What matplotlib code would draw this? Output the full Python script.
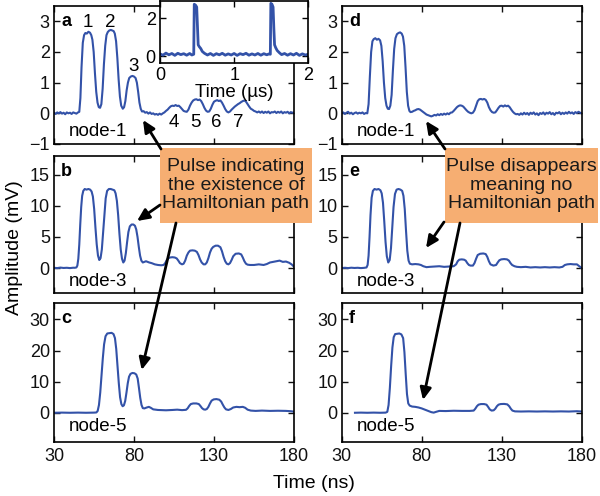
import matplotlib
matplotlib.use('Agg')
import matplotlib.pyplot as plt
from matplotlib.patches import Rectangle, FancyArrowPatch

plt.rcParams['font.family'] = ['Liberation Sans', 'DejaVu Sans']

# ---------------- data (time in ns, amplitude in mV) ----------------
t_a = [30, 31, 32, 33, 34, 35, 36, 37, 38, 39,
       40, 41, 42, 43, 44, 45, 45.8, 46.5, 47.2, 48,
       48.8, 49.6, 50.5, 51.5, 52.5, 53.3, 54, 54.8, 55.6, 56.4,
       57.2, 58, 58.8, 59.6, 60.4, 61.2, 62, 62.8, 63.6, 64.5,
       65.5, 66.5, 67.3, 68, 68.8, 69.6, 70.4, 71.2, 72, 73,
       73.8, 74.6, 75.4, 76.2, 77, 78, 79, 80, 81, 81.8,
       82.6, 83.4, 84.2, 85, 86, 87, 88, 89, 90, 91,
       92, 93, 94, 95, 96, 97, 98, 99, 100, 101,
       102, 103, 104, 105, 106, 107, 108, 109, 110, 111,
       112, 113, 114, 115, 116, 117, 118, 119, 120, 121,
       122, 123, 124, 125, 126, 127, 128, 129, 130, 131,
       132, 133, 134, 135, 136, 137, 138, 139, 140, 141,
       142, 143, 144, 145, 146, 147, 148, 149, 150, 151,
       152, 153, 154, 155, 156, 157, 158, 159, 160, 161,
       162, 163, 164, 165, 166, 167, 168, 169, 170, 171,
       172, 173, 174, 175, 176, 177, 178, 179, 180]
v_a = [0.02, -0.02, 0.03, 0.00, 0.04, -0.01, 0.02, -0.03, 0.03, 0.00,
       0.02, -0.02, 0.03, 0.01, -0.01, 0.03, 0.05, 0.5, 1.5, 2.3,
       2.55, 2.62, 2.6, 2.66, 2.63, 2.55, 2.4, 2.0, 1.3, 0.7,
       0.35, 0.2, 0.18, 0.3, 0.8, 1.6, 2.2, 2.55, 2.65, 2.7,
       2.72, 2.7, 2.68, 2.6, 2.35, 1.8, 1.1, 0.55, 0.25, 0.15,
       0.2, 0.4, 0.75, 1.0, 1.15, 1.2, 1.22, 1.2, 1.15, 1.0,
       0.7, 0.35, 0.15, 0.06, 0.07, 0.02, 0.04, -0.01, 0.03, -0.02,
       0.0, -0.04, -0.02, -0.05, -0.01, -0.04, 0.0, 0.03, 0.08, 0.12,
       0.18, 0.23, 0.25, 0.24, 0.27, 0.24, 0.25, 0.2, 0.14, 0.08,
       0.06, 0.05, 0.12, 0.25, 0.35, 0.42, 0.45, 0.46, 0.43, 0.45,
       0.4, 0.3, 0.18, 0.09, 0.05, 0.06, 0.15, 0.28, 0.38, 0.41,
       0.43, 0.4, 0.42, 0.35, 0.25, 0.14, 0.06, 0.03, 0.06, 0.12,
       0.17, 0.22, 0.26, 0.3, 0.33, 0.37, 0.4, 0.42, 0.38, 0.3,
       0.22, 0.15, 0.12, 0.08, 0.06, 0.03, 0.06, 0.02, 0.06, 0.01,
       0.05, 0.02, 0.06, 0.0, 0.04, 0.03, 0.06, 0.01, 0.05, 0.02,
       0.06, 0.0, 0.04, 0.02, 0.05, 0.0, 0.04, 0.02, 0.03]

t_b = [30, 32, 34, 36, 38, 40, 42, 43, 44, 44.6,
       45.2, 45.8, 46.4, 47, 47.6, 48.3, 49.2, 50.3, 51.5, 52.6,
       53.5, 54.3, 55.1, 55.9, 56.7, 57.5, 58.3, 59.1, 59.9, 60.7,
       61.5, 62.3, 63.2, 64.3, 65.5, 66.7, 67.7, 68.5, 69.3, 70.1,
       70.9, 71.7, 72.5, 73.3, 74.1, 74.9, 75.7, 76.5, 77.4, 78.5,
       79.6, 80.6, 81.4, 82.2, 83, 83.8, 84.6, 85.5, 86.5, 87.5,
       88.5, 89.5, 91, 93, 95, 97, 98.5, 99.5, 100.5, 101.5,
       102.5, 104, 105.5, 106.7, 107.7, 108.7, 110, 111, 112, 113,
       114, 115, 116.5, 118, 119.3, 120.3, 121.3, 122.3, 123.5, 124.5,
       125.5, 126.5, 127.5, 128.5, 129.5, 131, 132.5, 134, 135, 136,
       137, 138, 139, 140, 141, 142, 143.5, 145.5, 147, 148,
       149, 150, 151, 152.5, 155, 158, 161, 163, 165, 167,
       169, 171, 173, 175, 177, 178.5, 179.3, 180]
v_b = [0.05, 0.0, 0.08, 0.02, 0.05, 0.0, 0.06, 0.05, 0.1, 0.4,
       1.5, 3.8, 7.0, 9.8, 11.6, 12.4, 12.7, 12.6, 12.7, 12.6,
       12.3, 11.5, 9.5, 6.5, 3.8, 2.0, 1.3, 1.6, 3.0, 5.8,
       8.8, 11.2, 12.4, 12.7, 12.7, 12.6, 12.5, 12.0, 10.8, 8.5,
       5.5, 3.0, 1.5, 0.9, 1.2, 2.4, 4.2, 5.8, 6.7, 7.0,
       7.0, 6.8, 6.2, 5.0, 3.4, 2.0, 1.2, 0.9, 1.0, 1.1,
       1.0, 0.9, 0.8, 0.6, 0.5, 0.45, 0.5, 0.8, 1.3, 1.6,
       1.7, 1.75, 1.7, 1.55, 1.2, 0.8, 0.6, 0.7, 1.2, 2.0,
       2.5, 2.8, 2.85, 2.8, 2.6, 2.1, 1.4, 0.9, 0.6, 0.6,
       0.9, 1.6, 2.5, 3.1, 3.4, 3.6, 3.6, 3.35, 2.7, 1.8,
       1.1, 0.7, 0.6, 0.8, 1.3, 1.9, 2.3, 2.35, 2.2, 1.7,
       1.1, 0.7, 0.55, 0.5, 0.5, 0.6, 0.5, 0.65, 0.9, 1.0,
       1.1, 1.2, 1.0, 1.05, 0.85, 0.6, 0.4, 0.2]

t_c = [30, 35, 40, 45, 50, 55, 56.5, 57.3, 58.1, 58.9,
       59.7, 60.5, 61.3, 62.2, 63.3, 64.6, 66, 67.2, 68.1, 68.9,
       69.7, 70.5, 71.3, 72.1, 72.9, 73.7, 74.5, 75.3, 76.1, 76.9,
       77.8, 79, 80.3, 81.4, 82.3, 83.1, 83.9, 84.7, 85.5, 86.5,
       88, 89.3, 90.5, 92, 95, 100, 104, 107, 110, 112.5,
       113.5, 114.5, 115.5, 117, 119, 120.5, 121.5, 122.5, 123.5, 124.5,
       125.5, 126.5, 127.5, 128.5, 129.8, 131.5, 133.3, 134.5, 135.5, 136.5,
       137.5, 139, 140.5, 142, 144, 146, 148, 149.5, 151, 153,
       156, 160, 165, 170, 175, 178, 180]
v_c = [0.0, 0.05, 0.0, 0.05, 0.0, 0.05, 0.1, 0.6, 2.5, 6.5,
       12.0, 17.5, 22.0, 24.6, 25.5, 25.6, 25.7, 25.3, 24.0, 20.5,
       15.0, 9.5, 5.0, 2.8, 2.1, 2.4, 3.8, 6.5, 9.5, 11.6,
       12.5, 12.8, 12.7, 12.3, 11.0, 8.0, 4.8, 2.5, 1.5, 1.4,
       1.7, 1.9, 1.6, 1.1, 0.9, 0.8, 0.9, 1.0, 0.85, 0.95,
       1.4, 2.2, 2.8, 3.0, 3.0, 2.8, 2.2, 1.5, 1.1, 1.0,
       1.2, 1.9, 3.0, 3.9, 4.3, 4.4, 4.2, 3.6, 2.6, 1.7,
       1.1, 0.9, 1.2, 1.7, 1.9, 1.8, 1.9, 1.6, 1.0, 0.7,
       0.6, 0.7, 0.6, 0.65, 0.6, 0.5, 0.35]

t_d = [30, 31, 32, 33, 34, 35, 36, 37, 38, 39,
       40, 41, 42, 43, 44, 45, 46, 46.8, 47.6, 48.4,
       49.2, 50, 51, 52, 53, 54, 54.8, 55.6, 56.4, 57.2,
       58, 58.8, 59.6, 60.4, 61.2, 62, 62.8, 63.6, 64.5, 65.5,
       66.5, 67.5, 68.3, 69.1, 69.9, 70.7, 71.5, 72.3, 73, 74,
       75, 76, 77, 78, 79, 80, 81, 82, 83, 84,
       85, 86, 87, 88, 89, 90, 91, 92, 93, 94,
       95, 96, 97, 98, 99, 100, 101, 102, 103, 104,
       105, 106, 107, 108, 109, 110, 111, 112, 113, 114,
       115, 116, 117, 118, 119, 120, 121, 122, 123, 124,
       125, 126, 127, 128, 129, 130, 131, 132, 133, 134,
       135, 136, 137, 138, 139, 140, 141, 142, 143, 144,
       145, 146, 147, 148, 149, 150, 151, 152, 153, 154,
       155, 156, 157, 158, 159, 160, 161, 162, 163, 164,
       165, 166, 167, 168, 169, 170, 171, 172, 173, 174,
       175, 176, 177, 178, 179, 180]
v_d = [0.0, 0.03, -0.02, 0.02, 0.05, -0.01, 0.02, -0.03, 0.01, 0.03,
       -0.01, 0.02, 0.0, 0.03, -0.02, 0.01, 0.0, 0.3, 1.2, 2.0,
       2.35, 2.42, 2.45, 2.4, 2.43, 2.38, 2.2, 1.7, 1.0, 0.5,
       0.25, 0.15, 0.14, 0.25, 0.6, 1.4, 2.1, 2.45, 2.58, 2.62,
       2.64, 2.6, 2.5, 2.2, 1.5, 0.7, 0.25, 0.08, 0.04, 0.05,
       0.08, 0.1, 0.13, 0.14, 0.12, 0.08, 0.04, 0.0, -0.04, -0.06,
       -0.08, -0.1, -0.08, -0.05, -0.07, -0.03, -0.06, -0.02, -0.05, -0.01,
       -0.04, 0.0, -0.03, 0.02, 0.03, 0.08, 0.14, 0.2, 0.24, 0.26,
       0.25, 0.22, 0.16, 0.1, 0.05, 0.02, 0.0, 0.02, 0.1, 0.25,
       0.4, 0.46, 0.47, 0.45, 0.47, 0.44, 0.35, 0.2, 0.1, 0.04,
       0.02, 0.03, 0.1, 0.18, 0.24, 0.25, 0.22, 0.26, 0.23, 0.25,
       0.2, 0.12, 0.05, 0.0, -0.03, -0.02, -0.05, 0.0, -0.04, 0.02,
       -0.03, 0.01, -0.05, 0.02, -0.02, 0.03, -0.04, 0.0, -0.06, 0.01,
       -0.02, 0.03, -0.04, 0.02, -0.01, 0.04, -0.03, 0.01, -0.05, 0.02,
       0.0, 0.04, -0.03, 0.02, -0.02, 0.03, -0.01, 0.05, 0.0, 0.03,
       -0.02, 0.04, 0.01, 0.05, 0.02, 0.0]

t_e = [30, 32, 34, 36, 38, 40, 42, 44, 45.5, 46.2,
       46.8, 47.4, 48, 48.7, 49.5, 50.5, 51.8, 53, 54.2, 55,
       55.8, 56.6, 57.4, 58.2, 59.1, 60, 60.8, 61.6, 62.4, 63.3,
       64.3, 65.5, 66.7, 67.8, 68.6, 69.4, 70.2, 71, 71.8, 72.6,
       74, 76, 78, 79.5, 81, 83, 85, 88, 91, 94,
       97, 100, 101.5, 102.5, 103.5, 105, 106.5, 107.5, 108.5, 109.5,
       110.5, 112, 113, 114, 115, 116.5, 118.5, 120, 121, 122,
       123, 124.8, 126.5, 127.5, 128.5, 129.7, 131.5, 133.3, 134.5, 135.5,
       136.5, 138, 139.5, 142, 145, 148, 151, 154, 157, 160,
       163, 166, 168, 169.5, 171, 173, 175, 177, 178.5, 180]
v_e = [0.0, 0.05, 0.0, 0.06, 0.02, 0.05, 0.0, 0.04, 0.1, 0.5,
       2.0, 5.0, 8.5, 11.3, 12.4, 12.7, 12.6, 12.7, 12.5, 12.0,
       10.5, 7.5, 4.2, 1.9, 0.9, 1.3, 3.2, 6.5, 9.8, 11.9,
       12.6, 12.7, 12.6, 12.4, 11.6, 9.5, 6.0, 2.8, 1.2, 0.7,
       0.6, 0.65, 0.6, 0.5, 0.3, 0.15, 0.2, 0.25, 0.3, 0.2,
       0.25, 0.3, 0.6, 1.1, 1.35, 1.4, 1.35, 1.2, 0.8, 0.5,
       0.4, 0.4, 0.8, 1.5, 2.1, 2.3, 2.35, 2.25, 1.8, 1.1,
       0.6, 0.4, 0.5, 0.9, 1.25, 1.4, 1.45, 1.4, 1.2, 0.8,
       0.5, 0.3, 0.2, 0.15, 0.2, 0.1, 0.15, 0.1, 0.15, 0.1,
       0.15, 0.1, 0.2, 0.5, 0.6, 0.65, 0.6, 0.6, 0.3, 0.0]

t_f = [38.3, 42, 46, 50, 54, 57.5, 58.5, 59.3, 60.1, 60.9,
       61.7, 62.5, 63.4, 64.7, 66, 67.3, 68.4, 69.2, 70, 70.8,
       71.6, 72.5, 74, 76, 78, 80, 82, 84, 86, 87.5,
       89, 91, 95, 100, 105, 110, 112.5, 113.5, 114.5, 115.5,
       117, 119, 120.5, 121.5, 122.5, 123.7, 125, 126, 127, 128,
       129.3, 131.5, 133.5, 134.7, 135.7, 136.7, 138.3, 142, 147, 152,
       157, 162, 167, 172, 177, 180]
v_f = [0.0, 0.05, 0.0, 0.05, 0.0, 0.05, 0.3, 2.5, 8.0, 15.0,
       21.0, 24.3, 25.3, 25.4, 25.5, 25.2, 24.0, 19.5, 12.5, 6.0,
       3.0, 2.3, 2.0, 1.9, 1.7, 1.4, 1.0, 0.6, 0.2, 0.05,
       0.3, 0.6, 0.55, 0.65, 0.6, 0.6, 0.7, 1.3, 2.1, 2.6,
       2.8, 2.8, 2.6, 1.9, 1.1, 0.7, 0.8, 1.3, 2.1, 2.6,
       2.8, 2.85, 2.7, 2.1, 1.3, 0.7, 0.45, 0.4, 0.45, 0.4,
       0.45, 0.4, 0.45, 0.4, 0.5, 0.4]

# inset (time in microseconds)
t_in = [0.00, 0.04, 0.08, 0.12, 0.16, 0.20, 0.24, 0.28, 0.32, 0.36,
        0.40, 0.43, 0.455, 0.462, 0.48, 0.495, 0.505, 0.515, 0.53, 0.55,
        0.57, 0.60, 0.64, 0.68, 0.72, 0.76, 0.80, 0.84, 0.88, 0.92,
        0.96, 1.00, 1.04, 1.08, 1.12, 1.16, 1.20, 1.24, 1.28, 1.32,
        1.36, 1.40, 1.44, 1.47, 1.488, 1.495, 1.51, 1.525, 1.535, 1.545,
        1.56, 1.58, 1.61, 1.64, 1.68, 1.72, 1.76, 1.80, 1.84, 1.88,
        1.92, 1.96, 2.00]
v_in = [0.12, 0.05, 0.16, 0.07, 0.14, 0.04, 0.15, 0.08, 0.13, 0.05,
        0.14, 0.06, 0.1, 2.75, 2.7, 2.6, 1.6, 0.6, 0.5, 0.4,
        0.25, 0.15, 0.06, 0.14, 0.04, 0.13, 0.07, 0.15, 0.05, 0.12,
        0.06, 0.14, 0.04, 0.13, 0.08, 0.15, 0.05, 0.12, 0.06, 0.14,
        0.05, 0.13, 0.07, 0.12, 0.1, 2.8, 2.75, 2.6, 1.5, 0.6,
        0.45, 0.3, 0.18, 0.08, 0.14, 0.05, 0.13, 0.06, 0.15, 0.04,
        0.12, 0.06, 0.1]

panel_letters = ['a', 'b', 'c', 'd', 'e', 'f']
node_labels = ['node-1', 'node-3', 'node-5', 'node-1', 'node-3', 'node-5']
x_ticks = [30, 80, 130, 180]
y_ticks_rows = [[-1, 0, 1, 2, 3], [0, 5, 10, 15], [0, 10, 20, 30]]
peak_labels = ['1', '2', '3', '4', '5', '6', '7']
peak_label_t = [51.4, 65.0, 79.6, 104.6, 118.5, 131.7, 145.4]
peak_label_v = [2.95, 2.95, 1.54, -0.30, -0.30, -0.30, -0.30]
box_left_text = 'Pulse indicating\nthe existence of\nHamiltonian path'
box_right_text = 'Pulse disappears\nmeaning no\nHamiltonian path'

# ---------------- figure ----------------
W, H = 600, 496
fig = plt.figure(figsize=(W / 100, H / 100), dpi=100)


def fx(x):
    return x / W


def fy(y):
    return 1 - y / H


LINE = '#3352A8'
col_left = [54, 341.7]
rows = [(6, 144), (156, 293), (303, 442)]
ylims = [(-1, 3.5), (-4, 18), (-9.4, 35.3)]
series = [(t_a, v_a), (t_b, v_b), (t_c, v_c), (t_d, v_d), (t_e, v_e), (t_f, v_f)]
node_y = [0.09, 0.083, 0.11]

axes = []
for c in range(2):
    for r in range(3):
        idx = c * 3 + r
        top, bot = rows[r]
        ax = fig.add_axes([fx(col_left[c]), fy(bot), 240 / W, (bot - top) / H])
        t, v = series[idx]
        ax.plot(t, v, color=LINE, lw=1.5)
        ax.set_xlim(30, 180)
        ax.set_ylim(*ylims[r])
        ax.set_xticks(x_ticks)
        ax.set_yticks(y_ticks_rows[r])
        ax.tick_params(direction='in', length=4, width=1, top=True, right=True,
                       labelsize=13, pad=3, colors='#111111')
        ax.tick_params(axis='x', pad=4)
        if r < 2:
            ax.set_xticklabels([])
        for s in ax.spines.values():
            s.set_linewidth(1.2)
        ax.text(0.03, 0.89, panel_letters[idx], transform=ax.transAxes,
                fontsize=13, fontweight='bold', va='center', ha='left')
        ax.text(0.062, node_y[r], node_labels[idx], transform=ax.transAxes,
                fontsize=13.5, va='center', ha='left')
        axes.append(ax)

ax_a = axes[0]
for lab, tt, vv in zip(peak_labels, peak_label_t, peak_label_v):
    ax_a.text(tt, vv, lab, fontsize=13.5, ha='center', va='center')

# inset
ax_in = fig.add_axes([fx(160), fy(63.3), 148.3 / W, 62.8 / H], zorder=5)
ax_in.set_facecolor('white')
ax_in.plot(t_in, v_in, color=LINE, lw=2.0)
ax_in.set_xlim(0, 2)
ax_in.set_ylim(-0.38, 2.95)
ax_in.set_xticks([0, 1, 2])
ax_in.set_yticks([0, 2])
ax_in.tick_params(direction='in', length=4, width=1, top=True, right=True,
                  labelsize=13, pad=3)
ax_in.tick_params(axis='x', pad=3)
for s in ax_in.spines.values():
    s.set_linewidth(1.2)
ax_in.set_xlabel('Time (µs)', fontsize=13.5, labelpad=0)

# axis labels
fig.text(fx(15), fy(248), 'Amplitude (mV)', rotation=90, fontsize=14,
         ha='center', va='center')
fig.text(fx(314), fy(483), 'Time (ns)', fontsize=14, ha='center', va='center')

# annotation boxes
BOX = '#F6AE72'
for (x0, y0, x1, y1, txt) in [(160, 148, 312, 223, box_left_text),
                              (445, 148, 598, 223, box_right_text)]:
    rect = Rectangle((fx(x0), fy(y1)), (x1 - x0) / W, (y1 - y0) / H,
                     transform=fig.transFigure, facecolor=BOX,
                     edgecolor='none', zorder=10)
    fig.add_artist(rect)
    fig.text(fx((x0 + x1) / 2), fy((y0 + y1) / 2 - 0.5), txt, fontsize=14,
             ha='center', va='center', linespacing=1.1, color='#1a1a1a',
             zorder=11)

# arrows (tail -> head) in image pixel coords
arrows = [((161, 149), (143, 120)), ((160, 205), (137, 221)),
          ((176, 223), (141.7, 370)), ((445, 149), (426, 121)),
          ((444, 222), (426, 248)), ((460, 223), (423, 400))]
for (xa, ya), (xb, yb) in arrows:
    ar = FancyArrowPatch((fx(xa), fy(ya)), (fx(xb), fy(yb)),
                         transform=fig.transFigure,
                         arrowstyle='-|>,head_length=0.6,head_width=0.28',
                         mutation_scale=12, lw=2, color='black',
                         shrinkA=0, shrinkB=0, zorder=12)
    fig.add_artist(ar)

fig.savefig('out.png', dpi=100)
